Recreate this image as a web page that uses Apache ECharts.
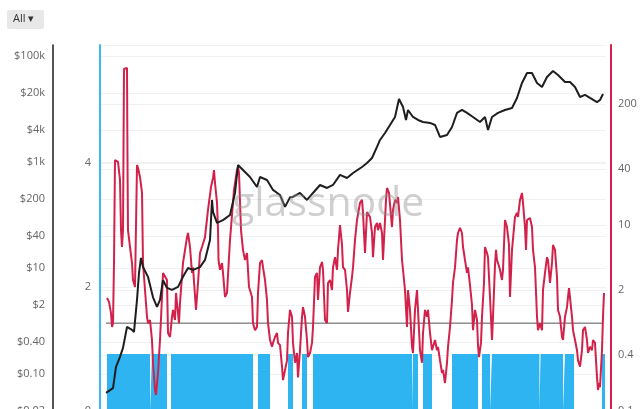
<!DOCTYPE html>
<html><head><meta charset="utf-8">
<script src="https://cdn.jsdelivr.net/npm/echarts@6/dist/echarts.min.js"></script>
<style>html,body{margin:0;padding:0;overflow:hidden;background:#fff}#c{width:640px;height:430px}</style>
</head><body><div id="c"></div>
<script>
// ---- tick labels ----
const priceTicks = [100000, 20000, 4000, 1000, 200, 40, 10, 2, 0.4, 0.1, 0.02];
const priceTickLabels = ['$100k','$20k','$4k','$1k','$200','$40','$10','$2','$0.40','$0.10','$0.02'];
const ratioTicks = [200, 40, 10, 2, 0.4, 0.1];
const ratioTickLabels = ['200','40','10','2','0.4','0.1'];
const levelTicks = [0, 2, 4];

// ---- price (black, left log axis) [year, USD] ----
const priceData = [
[2010.575,0.044],[2010.75,0.054],[2010.825,0.136],[2010.925,0.21],[2011.0,0.31],[2011.1,0.77],[2011.225,0.68],[2011.275,0.62],
[2011.35,2.5],[2011.4,8.05],[2011.45,15.5],[2011.5,10.4],[2011.625,6.8],[2011.75,2.8],[2011.85,1.84],[2011.925,2.5],
[2012.0,5.9],[2012.1,4.2],[2012.225,3.85],[2012.375,4.4],[2012.5,6.8],[2012.625,10],[2012.75,9.2],[2012.925,10.4],
[2013.05,14.2],[2013.175,33.7],[2013.225,192],[2013.25,114],[2013.35,71],[2013.5,80],[2013.675,100],[2013.8,260],
[2013.875,877],[2014.0,706],[2014.175,521],[2014.35,337],[2014.425,521],[2014.6,457],[2014.75,297],[2014.925,238],
[2015.05,142],[2015.175,215],[2015.25,219],[2015.425,260],[2015.6,192],[2015.75,260],[2015.925,368],[2016.1,323],
[2016.25,368],[2016.425,569],[2016.6,499],[2016.75,620],[2016.975,805],[2017.1,957],[2017.225,1190],[2017.35,1920],
[2017.425,2600],[2017.55,3520],[2017.675,4990],[2017.8,7060],[2017.9,15450],[2018.0,10900],[2018.075,6200],[2018.125,9570],
[2018.25,7060],[2018.375,6200],[2018.5,5690],[2018.675,5450],[2018.8,4990],[2018.925,2960],[2019.1,3230],[2019.225,4570],
[2019.35,8410],[2019.475,9570],[2019.6,8410],[2019.75,7060],[2019.925,5690],[2020.05,7060],[2020.125,4020],[2020.225,7060],
[2020.375,8410],[2020.55,9570],[2020.725,10440],[2020.85,16130],[2020.975,31000],[2021.1,47800],[2021.225,47800],[2021.35,31000],
[2021.475,26000],[2021.6,40200],[2021.75,52100],[2021.875,43800],[2022.05,32300],[2022.175,32300],[2022.3,26000],[2022.425,16800],
[2022.55,18400],[2022.675,16130],[2022.85,13500],[2022.925,14800],[2023.0,19200]
];

// ---- ratio (red, right log axis) [year, value] ----
const ratioData = [
[2010.600,1.64],[2010.650,1.49],[2010.700,1.13],[2010.725,0.80],[2010.750,0.88],[2010.775,3.9],[2010.800,50],[2010.850,52.5],
[2010.875,47.6],[2010.925,30.5],[2010.950,8.8],[2010.975,5.8],[2011.000,8.8],[2011.025,476],[2011.050,476],[2011.100,488],
[2011.112,52.5],[2011.125,8.8],[2011.175,5.8],[2011.225,3.9],[2011.250,2.56],[2011.300,2.15],[2011.350,44.2],[2011.375,41],
[2011.425,32.8],[2011.475,22.1],[2011.500,3.9],[2011.550,2.0],[2011.600,1.03],[2011.625,0.88],[2011.675,0.95],[2011.725,0.58],
[2011.750,0.33],[2011.800,0.168],[2011.825,0.149],[2011.875,0.256],[2011.925,0.58],[2011.975,1.68],[2012.000,3.05],[2012.050,3.1],
[2012.100,2.56],[2012.125,0.69],[2012.175,0.625],[2012.225,1.03],[2012.250,1.22],[2012.300,0.95],[2012.325,1.86],[2012.350,1.86],
[2012.400,0.88],[2012.425,1.45],[2012.500,3.9],[2012.600,7.4],[2012.625,8.2],[2012.675,5.8],[2012.725,3.05],[2012.750,3.5],
[2012.825,1.22],[2012.875,2.38],[2012.925,5.0],[2012.975,5.8],[2013.050,7.4],[2013.125,14.5],[2013.200,25.6],[2013.250,32],
[2013.275,39],[2013.300,28.3],[2013.350,17.3],[2013.375,8.8],[2013.388,4.2],[2013.425,3.3],[2013.475,3.9],[2013.500,3.05],
[2013.550,1.68],[2013.600,1.86],[2013.675,6.9],[2013.775,23.8],[2013.850,39],[2013.875,42],[2013.900,36.2],[2013.950,8.8],
[2014.000,5.4],[2014.050,4.2],[2014.100,5.0],[2014.150,2.15],[2014.225,1.68],[2014.250,0.88],[2014.300,0.74],[2014.350,0.80],
[2014.375,1.86],[2014.425,3.9],[2014.475,4.2],[2014.500,3.5],[2014.550,2.56],[2014.600,1.56],[2014.625,0.88],[2014.675,0.58],
[2014.725,0.49],[2014.750,0.54],[2014.800,0.625],[2014.850,0.69],[2014.875,0.54],[2014.925,0.51],[2014.975,0.30],[2015.000,0.215],
[2015.050,0.215],[2015.100,0.35],[2015.125,0.69],[2015.175,1.22],[2015.225,1.03],[2015.250,0.54],[2015.300,0.33],[2015.350,0.42],
[2015.375,0.23],[2015.425,0.45],[2015.475,1.03],[2015.500,1.31],[2015.550,1.03],[2015.600,0.58],[2015.625,0.38],[2015.675,0.42],
[2015.725,0.54],[2015.750,0.80],[2015.800,2.76],[2015.850,3.05],[2015.875,1.56],[2015.925,3.5],[2015.975,4.0],[2016.000,3.3],
[2016.050,0.95],[2016.100,0.88],[2016.125,2.38],[2016.175,2.56],[2016.225,2.0],[2016.250,3.5],[2016.300,4.5],[2016.350,3.3],
[2016.375,5.4],[2016.425,10],[2016.475,6.1],[2016.500,3.5],[2016.550,3.3],[2016.600,2.0],[2016.625,1.16],[2016.675,1.86],
[2016.725,2.76],[2016.750,3.5],[2016.800,6.9],[2016.850,11.3],[2016.925,17.3],[2016.975,18.6],[2017.000,13.5],[2017.050,5.0],
[2017.100,13.8],[2017.175,12.2],[2017.225,8.2],[2017.250,4.5],[2017.300,9.5],[2017.350,10.5],[2017.375,8.8],[2017.425,10.5],
[2017.475,8.2],[2017.500,4.2],[2017.575,18.6],[2017.600,25],[2017.650,22.1],[2017.725,9.5],[2017.750,14.5],[2017.800,18.6],
[2017.850,17.3],[2017.875,20],[2017.925,11.3],[2017.975,4.2],[2018.000,3.3],[2018.050,2.0],[2018.100,0.80],[2018.125,2.0],
[2018.175,1.22],[2018.225,0.49],[2018.250,0.42],[2018.300,1.22],[2018.350,2.0],[2018.375,1.22],[2018.425,0.45],[2018.475,0.33],
[2018.500,0.69],[2018.550,1.22],[2018.600,1.03],[2018.625,1.22],[2018.675,0.69],[2018.725,0.45],[2018.750,0.49],[2018.800,0.58],
[2018.850,0.45],[2018.875,0.49],[2018.925,0.35],[2018.975,0.256],[2019.000,0.276],[2019.050,0.20],[2019.100,0.33],[2019.125,0.49],
[2019.175,0.80],[2019.225,1.56],[2019.250,2.38],[2019.300,3.5],[2019.350,6.9],[2019.375,8.2],[2019.425,9.3],[2019.475,8.2],
[2019.500,5.8],[2019.550,4.2],[2019.600,3.05],[2019.625,3.5],[2019.675,2.26],[2019.725,1.38],[2019.750,0.74],[2019.800,1.22],
[2019.850,0.95],[2019.875,0.51],[2019.900,0.38],[2019.950,0.54],[2019.975,1.03],[2020.025,2.38],[2020.050,5.8],[2020.100,5.0],
[2020.125,4.5],[2020.175,1.68],[2020.225,0.58],[2020.250,1.03],[2020.300,3.7],[2020.325,5.4],[2020.350,4.2],[2020.375,3.9],
[2020.425,3.3],[2020.475,2.56],[2020.500,3.3],[2020.550,11.3],[2020.600,9.5],[2020.650,6.1],[2020.675,1.68],[2020.725,5.4],
[2020.800,12.2],[2020.850,13.5],[2020.875,12.2],[2020.925,18.6],[2020.975,22.1],[2021.000,17.3],[2021.050,9.5],[2021.075,5.4],
[2021.100,11.3],[2021.175,11.9],[2021.225,9.5],[2021.250,5.4],[2021.300,3.5],[2021.350,1.03],[2021.375,0.74],[2021.425,0.88],
[2021.475,0.74],[2021.500,2.0],[2021.550,3.05],[2021.600,4.5],[2021.625,4.2],[2021.675,2.38],[2021.725,3.9],[2021.750,6.1],
[2021.800,5.4],[2021.850,2.76],[2021.875,1.22],[2021.925,1.03],[2021.975,0.625],[2022.000,0.58],[2022.050,1.03],[2022.100,1.31],
[2022.125,1.68],[2022.150,2.1],[2022.200,2.0],[2022.225,1.03],[2022.250,0.74],[2022.300,0.58],[2022.350,0.45],[2022.375,0.35],
[2022.425,0.30],[2022.475,0.45],[2022.500,0.74],[2022.550,0.80],[2022.600,0.58],[2022.625,0.42],[2022.675,0.49],[2022.725,0.45],
[2022.750,0.58],[2022.800,0.54],[2022.850,0.23],[2022.875,0.168],[2022.900,0.20],[2022.925,0.18],[2022.975,0.45],[2023.000,1.03],
[2023.025,1.86]
];

// ---- active periods (blue blocks, middle axis) [startYear, endYear] ----
const activeSpans = [[2010.6,2011.675],[2011.725,2012.1],[2012.2,2014.25],[2014.375,2014.675],[2015.125,2015.25],
[2015.475,2015.6],[2015.75,2018.225],[2018.25,2018.375],[2018.5,2018.725],[2019.225,2019.875],[2019.975,2020.175],
[2020.225,2021.41],[2021.44,2022.0],[2022.05,2022.275],[2022.975,2023.05]];
const activeLevel = 0.92;
const thresholdValue = 0.88;
const thresholdSpan = [2010.575, 2023.0];

const L = Math.log10;
const FONT = '"Open Sans", sans-serif';
function labelFor(ticks, labels) {
  const lv = ticks.map(L);
  return v => { for (let i = 0; i < lv.length; i++) if (Math.abs(lv[i] - v) < 1e-6) return labels[i]; return ''; };
}

const stepData = [];
activeSpans.forEach(([s, e]) => { stepData.push([s, activeLevel]); stepData.push([e, 0]); });

const chart = echarts.init(document.getElementById('c'), null, {renderer: 'canvas'});
chart.setOption({
  animation: false,
  backgroundColor: '#fff',
  grid: {left: 100, right: 34, top: 45, bottom: 19},
  xAxis: {type: 'value', min: 2010.425, max: 2023.075, show: false},
  yAxis: [
    {type: 'value', position: 'left', offset: 47, min: L(0.02), max: 5.207,
     axisLine: {show: true, lineStyle: {color: '#1a1a1a', width: 1.5}},
     axisTick: {show: false, customValues: priceTicks.map(L)},
     axisLabel: {customValues: priceTicks.map(L), formatter: labelFor(priceTicks, priceTickLabels),
       color: '#666', fontSize: 11, fontFamily: FONT, margin: 8},
     splitLine: {show: true, lineStyle: {color: '#f0f0f0', width: 1}}},
    {type: 'value', position: 'left', offset: 0, min: 0, max: 5.9, interval: 2,
     axisLine: {show: true, lineStyle: {color: '#3bb8f0', width: 2}},
     axisTick: {show: false},
     axisLabel: {color: '#666', fontSize: 11, fontFamily: FONT, margin: 9, showMaxLabel: false},
     splitLine: {show: true, lineStyle: {color: '#f2f2f2', width: 1}}},
    {type: 'value', position: 'right', offset: 5, min: -1, max: 2.935,
     axisLine: {show: true, lineStyle: {color: '#d2224b', width: 2}},
     axisTick: {show: false, customValues: ratioTicks.map(L)},
     axisLabel: {customValues: ratioTicks.map(L), formatter: labelFor(ratioTicks, ratioTickLabels),
       color: '#666', fontSize: 11, fontFamily: FONT, margin: 7},
     splitLine: {show: true, lineStyle: {color: '#f0f0f0', width: 1}}}
  ],
  series: [
    {type: 'line', yAxisIndex: 1, step: 'end', symbol: 'none', silent: true,
     lineStyle: {width: 0, opacity: 0}, areaStyle: {color: '#2db4f1', opacity: 1},
     data: stepData, z: 1},
    {type: 'line', yAxisIndex: 2, symbol: 'none', silent: true,
     lineStyle: {color: '#555', width: 1},
     data: thresholdSpan.map(t => [t, L(thresholdValue)]), z: 2},
    {type: 'line', yAxisIndex: 2, symbol: 'none', silent: true,
     lineStyle: {color: '#d2224b', width: 2},
     data: ratioData.map(([t, v]) => [t, L(v)]), z: 3},
    {type: 'line', yAxisIndex: 0, symbol: 'none', silent: true,
     lineStyle: {color: '#1e1e1e', width: 2},
     data: priceData.map(([t, v]) => [t, L(v)]), z: 4}
  ],
  graphic: [
    {type: 'rect', left: 7, top: 10, shape: {width: 37, height: 19, r: 2}, style: {fill: '#e8e8e8'}},
    {type: 'text', left: 13, top: 13, style: {text: 'All ▾', fill: '#333', font: '11px ' + FONT}},
    {type: 'text', left: 232, top: 184, z: 100,
     style: {text: 'glassnode', fill: 'rgba(140,140,140,0.42)', font: '41px ' + FONT}}
  ]
});
</script></body></html>
